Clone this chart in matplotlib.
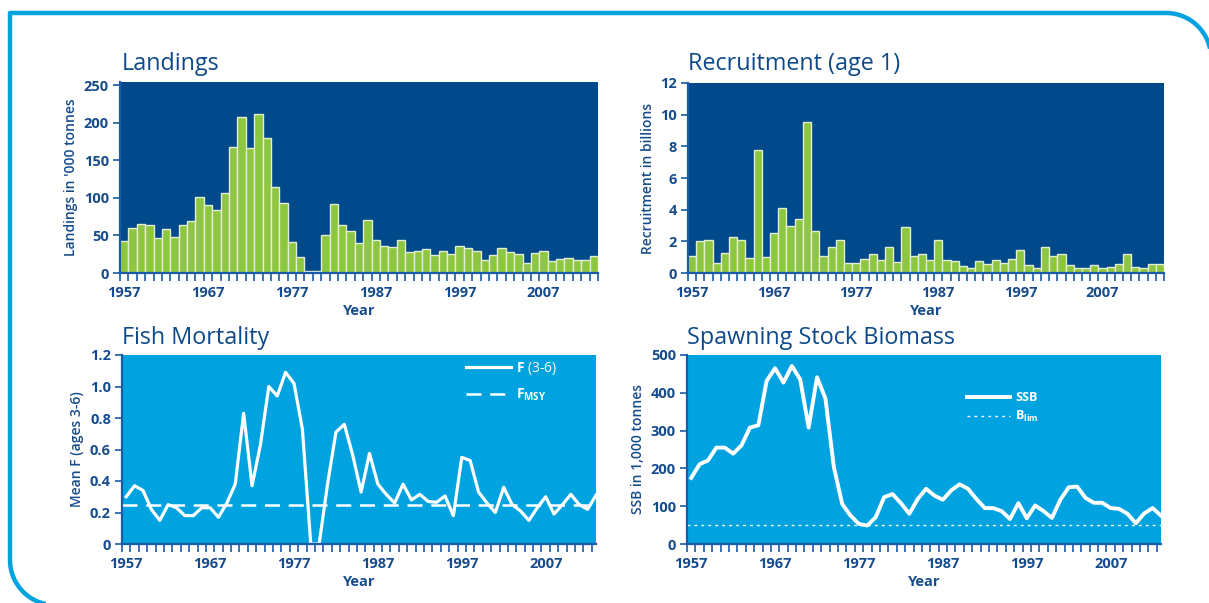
import numpy as np
import matplotlib.pyplot as plt
import matplotlib as mpl

mpl.rcParams.update({
    "font.family": ["Open Sans", "DejaVu Sans"],
    "mathtext.fontset": "custom",
    "mathtext.rm": "Open Sans",
    "mathtext.bf": "Open Sans:bold",
})

# ── Data ──
YEARS_LAND = np.arange(1957, 2014)
LANDINGS = [43, 60, 65, 64, 46, 59, 48, 64, 69, 101,
            91, 84, 107, 167, 208, 166, 212, 180, 114, 93,
            41, 21, 2, 2, 51, 92, 64, 56, 40, 70,
            44, 36, 34, 44, 28, 29, 32, 24, 29, 25,
            36, 33, 29, 17, 24, 33, 28, 25, 13, 27,
            29, 16, 19, 20, 17, 17, 22]

YEARS_REC = np.arange(1957, 2015)
RECRUITMENT = [1.05, 2.0, 2.07, 0.61, 1.27, 2.26, 2.07, 0.97, 7.74, 1.03,
               2.51, 4.09, 3.0, 3.42, 9.51, 2.68, 1.1, 1.67, 2.07, 0.61,
               0.61, 0.91, 1.22, 0.84, 1.65, 0.72, 2.93, 1.1, 1.18, 0.84,
               2.07, 0.84, 0.78, 0.42, 0.34, 0.78, 0.55, 0.84, 0.61, 0.89,
               1.48, 0.49, 0.3, 1.67, 1.1, 1.18, 0.49, 0.3, 0.3, 0.49,
               0.3, 0.36, 0.55, 1.22, 0.4, 0.32, 0.55, 0.55]

YEARS_F = np.arange(1957, 2014)
F_36 = [0.30, 0.37, 0.34, 0.22, 0.15, 0.25, 0.23, 0.18, 0.18, 0.23,
        0.23, 0.17, 0.26, 0.38, 0.83, 0.37, 0.63, 1.00, 0.94, 1.09,
        1.02, 0.73, 0.0, 0.0, 0.38, 0.71, 0.76, 0.565, 0.33, 0.575,
        0.38, 0.315, 0.26, 0.38, 0.28, 0.315, 0.27, 0.265, 0.305, 0.18,
        0.55, 0.53, 0.33, 0.26, 0.20, 0.36, 0.25, 0.21, 0.15, 0.23,
        0.30, 0.19, 0.25, 0.315, 0.25, 0.22, 0.31]
F_MSY = 0.25

YEARS_SSB = np.arange(1957, 2014)
SSB = [175, 211, 221, 255, 255, 239, 261, 308, 314, 432,
       465, 427, 471, 435, 308, 441, 385, 204, 106, 75,
       53, 49, 71, 124, 132, 108, 80, 119, 146, 128,
       117, 142, 158, 146, 119, 95, 95, 87, 66, 108,
       68, 102, 87, 69, 117, 150, 152, 122, 109, 109,
       95, 93, 80, 55, 81, 95, 75]
B_LIM = 50

DECADES = [1957, 1967, 1977, 1987, 1997, 2007]

# ── Colours ──
DARK = "#004A8B"
CYAN = "#00A3E0"
GREEN = "#8DC63F"
TEXT = "#174C8C"
AXIS = "#1A5AA6"

W, H = 1209, 603
fig = plt.figure(figsize=(W / 100, H / 100), dpi=100)

# ── Outer rounded frame ──
bg = fig.add_axes([0, 0, 1, 1], zorder=-5)
bg.set_xlim(0, W)
bg.set_ylim(H, 0)
bg.axis("off")
r = 45
t = np.linspace(0, np.pi / 2, 40)
bl_x, bl_y = 55 - r * np.cos(t), 560 + r * np.sin(t)
tr_x, tr_y = 1166 + r * np.sin(t), 58 - r * np.cos(t)
fx = np.concatenate([bl_x[::-1], [10, 1166], tr_x])
fy = np.concatenate([bl_y[::-1], [13, 13], tr_y])
bg.plot(fx, fy, color=CYAN, lw=3.2, solid_capstyle="butt")


def px_axes(left, top, right, bottom):
    return fig.add_axes([left / W, 1 - bottom / H, (right - left) / W, (bottom - top) / H])


def style(ax, face, xmin, xmax, tick_end, ylabel):
    ax.set_facecolor(face)
    for s in ("top", "right"):
        ax.spines[s].set_visible(False)
    for s in ("left", "bottom"):
        ax.spines[s].set_color(AXIS)
        ax.spines[s].set_linewidth(1.6)
    ax.set_xlim(xmin, xmax)
    ax.set_xticks(DECADES)
    ax.set_xticks(np.arange(1956.5, tick_end, 1), minor=True)
    ax.tick_params(axis="x", which="major", length=0, pad=9)
    ax.tick_params(axis="x", which="minor", length=6, width=1.2, color=AXIS)
    ax.tick_params(axis="y", length=5, width=1.2, color=AXIS, pad=3)
    ax.tick_params(labelcolor=TEXT, labelsize=10.5)
    for lab in ax.get_xticklabels() + ax.get_yticklabels():
        lab.set_fontweight("bold")
    ax.set_xlabel("Year", color=TEXT, fontsize=10.5, fontweight="bold", labelpad=3)
    ax.set_ylabel(ylabel, color=TEXT, fontsize=10, fontweight="semibold", labelpad=4)


# ── Landings ──
ax1 = px_axes(120, 82, 598, 273)
ax1.bar(YEARS_LAND, LANDINGS, width=1.0, color=GREEN, edgecolor="#E4EDD6", linewidth=1.0)
ax1.set_ylim(0, 254)
ax1.set_yticks([0, 50, 100, 150, 200, 250])
style(ax1, DARK, 1956.5, 2013.5, 2014, "Landings in '000 tonnes")

# ── Recruitment ──
ax2 = px_axes(688, 83, 1164, 273)
ax2.bar(YEARS_REC, RECRUITMENT, width=1.0, color=GREEN, edgecolor="#E4EDD6", linewidth=1.0)
ax2.set_ylim(0, 12)
ax2.set_yticks(np.arange(0, 13, 2))
style(ax2, DARK, 1956.5, 2014.5, 2015, "Recruitment in billions")

# ── Fish mortality ──
ax3 = px_axes(122, 355, 596, 544)
ax3.plot(YEARS_F, F_36, color="white", lw=2.3, label=r"$\mathbf{F}$ (3-6)")
ax3.axhline(F_MSY, color="white", lw=1.8, dashes=(6, 3.5), label=r"$\mathbf{F_{MSY}}$")
ax3.set_ylim(0, 1.2)
ax3.set_yticks(np.arange(0, 1.21, 0.2))
ax3.set_yticklabels(["0", "0.2", "0.4", "0.6", "0.8", "1.0", "1.2"])
style(ax3, CYAN, 1956.6, 2013, 2013, "Mean F (ages 3-6)")
ax3.legend(loc="upper left", bbox_to_anchor=(0.725, 0.975), frameon=False,
           labelcolor="white", fontsize=10, handlelength=3.3, handletextpad=0.3,
           labelspacing=0.7, borderaxespad=0, borderpad=0)

# ── Spawning stock biomass ──
ax4 = px_axes(687, 355, 1161, 544)
ax4.plot(YEARS_SSB, SSB, color="white", lw=2.8, label=r"$\mathbf{SSB}$")
ax4.axhline(B_LIM, color="white", lw=1.0, dashes=(2, 3), label=r"$\mathbf{B_{lim}}$")
ax4.set_ylim(0, 500)
ax4.set_yticks(np.arange(0, 501, 100))
style(ax4, CYAN, 1956.6, 2013, 2013, "SSB in 1,000 tonnes")
ax4.legend(loc="upper left", bbox_to_anchor=(0.59, 0.81), frameon=False,
           labelcolor="white", fontsize=9, handlelength=3.5, handletextpad=0.4,
           labelspacing=0.4, borderaxespad=0, borderpad=0)

# ── Panel titles ──
for x, y, s in [(122, 64, "Landings"), (688, 64, "Recruitment (age 1)"),
                (122, 338, "Fish Mortality"), (687, 338, "Spawning Stock Biomass")]:
    fig.text(x / W, 1 - y / H, s, color="#0E4A8A", fontsize=16.8, va="center", ha="left")

fig.savefig("out.png", dpi=100)
